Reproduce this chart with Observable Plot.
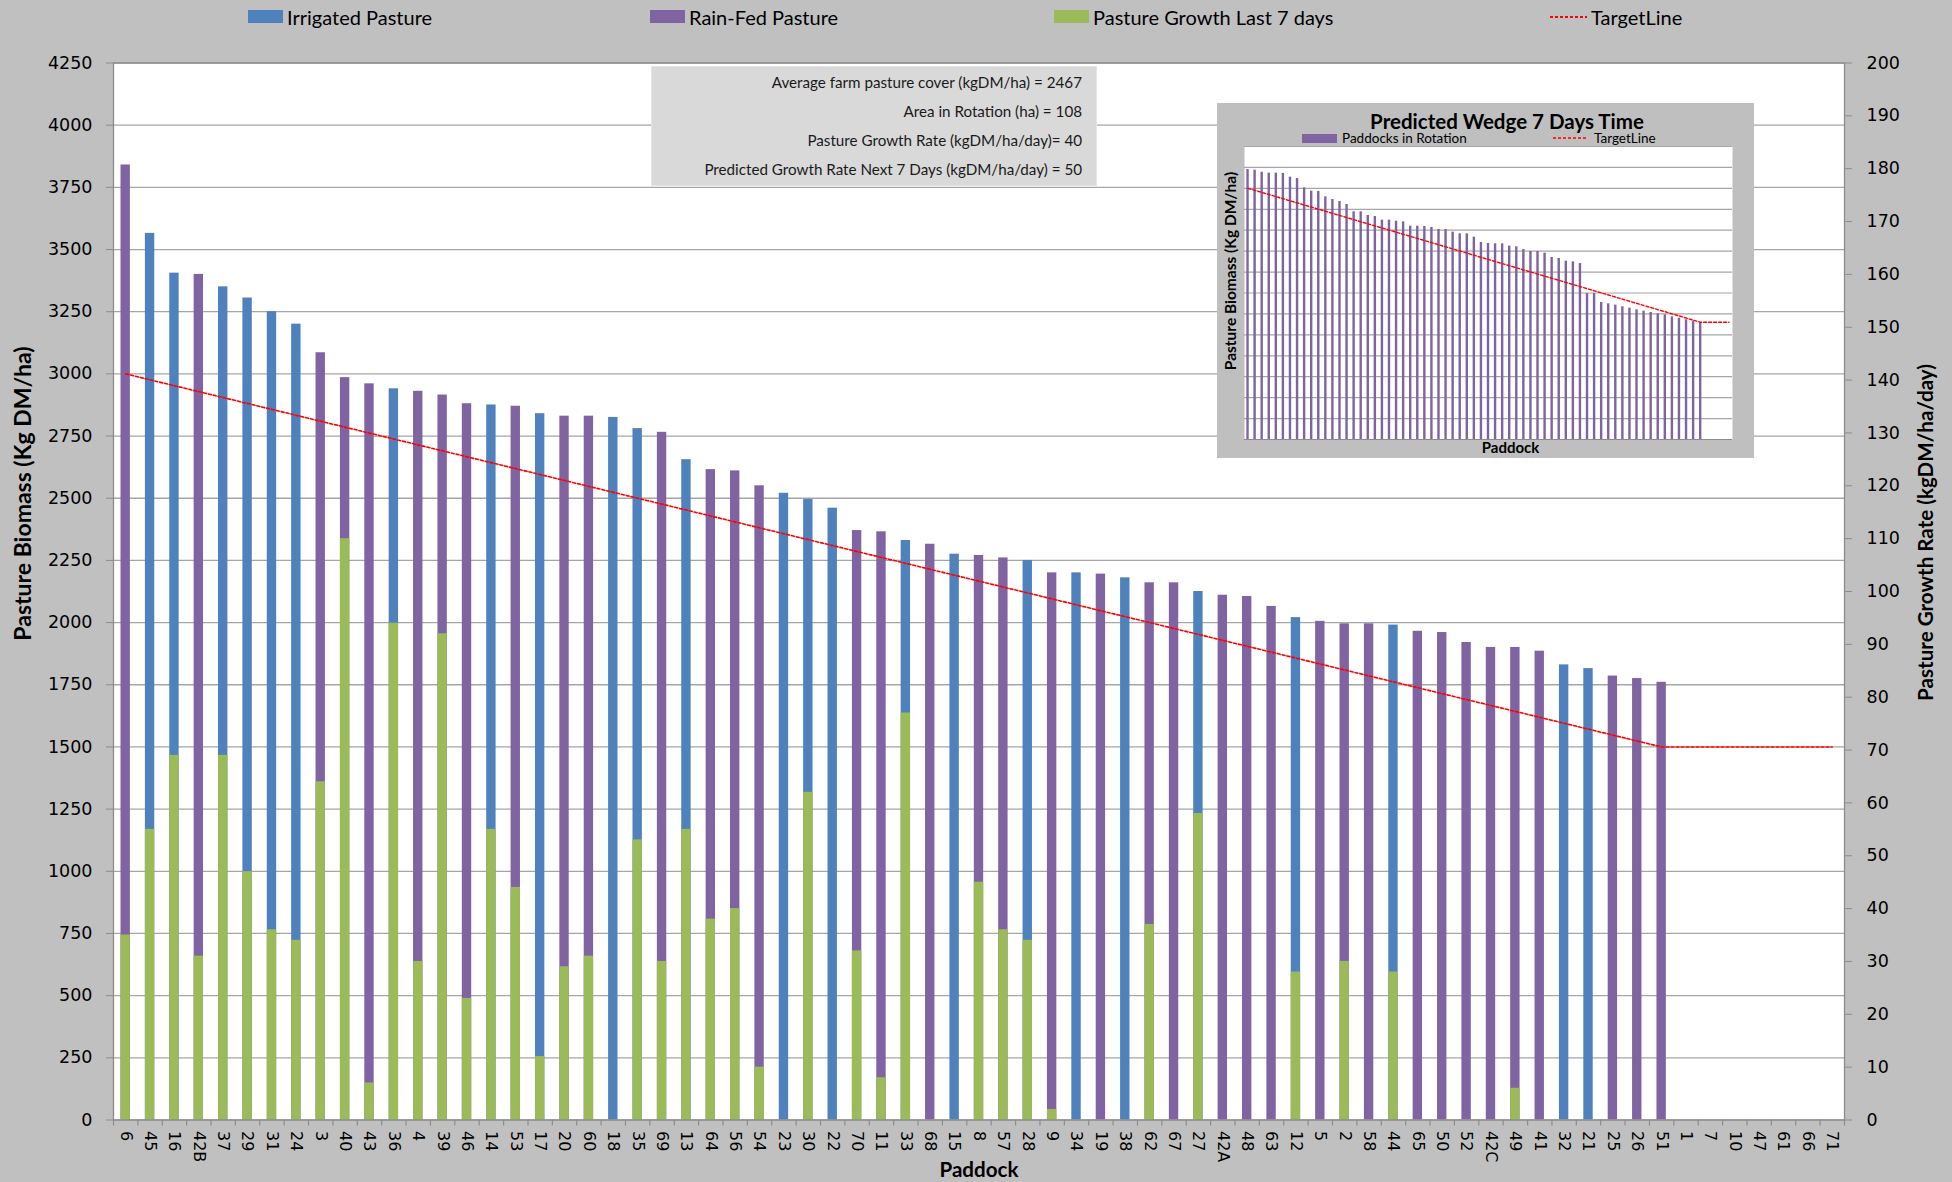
<!DOCTYPE html>
<html><head><meta charset="utf-8">
<script src="https://cdn.jsdelivr.net/npm/d3@7"></script>
<script src="https://cdn.jsdelivr.net/npm/@observablehq/plot@0.6"></script>
<style>
html,body{margin:0;padding:0;background:#c0c0c0;}
#wrap{position:relative;width:1952px;height:1182px;overflow:hidden;background:#c0c0c0;font-family:Lato,"Open Sans",sans-serif;color:#000;}
#legend{position:absolute;left:0;top:0;width:1952px;height:40px;}
.lg{position:absolute;top:0;height:33px;display:flex;align-items:center;font-size:20px;white-space:nowrap;}
.sw{display:inline-block;width:35px;height:13px;margin-right:4px;}
#chart{position:absolute;left:0;top:40px;}
#info{position:absolute;left:651px;top:66px;width:446px;height:120px;background:#d9d9d9;border:1px solid #e6e6e6;box-sizing:border-box;}
#info div{position:absolute;right:14px;font-size:15.2px;line-height:1;transform:translateY(-50%);white-space:nowrap;color:#1a1a1a;}
#inset{position:absolute;left:1217px;top:103px;width:537px;height:355px;background:#bfbfbf;}
#inset .ttl{position:absolute;left:290px;top:18px;transform:translate(-50%,-50%);font-size:20.5px;font-weight:bold;white-space:nowrap;}
#inset .ilg{position:absolute;top:35px;transform:translateY(-50%);display:flex;align-items:center;font-size:13.5px;white-space:nowrap;}
#insetPlot{position:absolute;left:0;top:40px;}
</style></head>
<body>
<div id="wrap">
  <div id="legend"></div>
  <div id="chart"></div>
  <div id="info"></div>
  <div id="inset"><div id="insetPlot"></div></div>
</div>
<script>
// ---------- Data ----------
const paddocks = ["6","45","16","42B","37","29","31","24","3","40","43","36","4","39","46","14","53","17","20","60","18","35","69","13","64","56","54","23","30","22","70","11","33","68","15","8","57","28","9","34","19","38","62","67","27","42A","48","63","12","5","2","58","44","65","50","52","42C","49","41","32","21","25","26","51","1","7","10","47","61","66","71"];
// Pasture cover (kg DM/ha)
const cover = [3840,3565,3405,3400,3350,3305,3250,3200,3085,2985,2960,2940,2930,2915,2880,2875,2870,2840,2830,2830,2825,2780,2765,2655,2615,2610,2550,2520,2495,2460,2370,2365,2330,2315,2275,2270,2260,2250,2200,2200,2195,2180,2160,2160,2125,2110,2105,2065,2020,2005,1995,1995,1990,1965,1960,1920,1900,1900,1885,1830,1815,1785,1775,1760,null,null,null,null,null,null,null];
// I = Irrigated Pasture, R = Rain-Fed Pasture
const pastureType = ["R","I","I","R","I","I","I","I","R","R","R","I","R","R","R","I","R","I","R","R","I","I","R","I","R","R","R","I","I","I","R","R","I","R","I","R","R","I","R","I","R","I","R","R","I","R","R","R","I","R","R","R","I","R","R","R","R","R","R","I","I","R","R","R",null,null,null,null,null,null,null];
// Pasture growth last 7 days (kg DM/ha/day, secondary axis)
const growth7d = [35,55,69,31,69,47,36,34,64,110,7,94,30,92,23,55,44,12,29,31,0,53,30,55,38,40,10,0,62,0,32,8,77,0,0,45,36,34,2,0,0,0,37,0,58,0,0,0,28,0,30,0,28,0,0,0,0,6,0,0,0,0,0,0,null,null,null,null,null,null,null];
const targetPaddocks = ["6","51","71"];
const targetValues = [3000,1500,1500];
const leftTicks = [0,250,500,750,1000,1250,1500,1750,2000,2250,2500,2750,3000,3250,3500,3750,4000,4250];
const rightTicks = [0,10,20,30,40,50,60,70,80,90,100,110,120,130,140,150,160,170,180,190,200];

const infoLines = [
  "Average farm pasture cover (kgDM/ha) = 2467",
  "Area in Rotation (ha) = 108",
  "Pasture Growth Rate (kgDM/ha/day)= 40",
  "Predicted Growth Rate Next 7 Days (kgDM/ha/day) = 50"
];

// Inset: predicted wedge in 7 days
const wedgeValues = [3225,3217,3193,3182,3182,3178,3134,3118,3006,2967,2963,2899,2867,2843,2807,2720,2720,2676,2664,2620,2620,2608,2600,2548,2548,2544,2533,2509,2509,2477,2457,2457,2417,2353,2341,2337,2337,2310,2302,2270,2246,2246,2226,2174,2162,2130,2122,2102,1744,1744,1637,1621,1605,1585,1569,1549,1533,1517,1501,1489,1465,1449,1430,1414,1394];
const wedgeSlotCount = 69;
const wedgeTargetSlots = [1,65,69];
const wedgeTargetValues = [3000,1400,1400];
const insetTicks = [0,250,500,750,1000,1250,1500,1750,2000,2250,2500,2750,3000,3250,3500];

// ---------- Style ----------
const BLUE = "#4f81bd", PURPLE = "#8064a2", GREEN = "#9bbb59", RED = "#ff0000";
const GRID = "#a6a6a6", AXIS = "#8c8c8c";
const W = 1952, H = 1182, LEG = 40;
const mainH = H - LEG;
const mL = 113, mR = 108, mT = 22.5, mB = 62.5;
const plotH = mainH - mT - mB;
const step = (W - mL - mR) / paddocks.length;
const Y1MAX = 4250, Y2MAX = 200, k = Y1MAX / Y2MAX;

// ---------- Legend ----------
const legend = document.getElementById("legend");
const legendItems = [
  {left: 248, label: "Irrigated Pasture", color: BLUE},
  {left: 650, label: "Rain-Fed Pasture", color: PURPLE},
  {left: 1054, label: "Pasture Growth Last 7 days", color: GREEN},
  {left: 1550, label: "TargetLine", line: true}
];
for (const it of legendItems) {
  const d = document.createElement("div");
  d.className = "lg";
  d.style.left = it.left + "px";
  if (it.line) {
    d.innerHTML = `<svg width="37" height="4" style="margin-right:4px"><line x1="0" y1="2" x2="37" y2="2" stroke="${RED}" stroke-width="2" stroke-dasharray="3,2"/></svg>${it.label}`;
  } else {
    d.innerHTML = `<span class="sw" style="background:${it.color}"></span>${it.label}`;
  }
  legend.appendChild(d);
}

// ---------- Info box ----------
const info = document.getElementById("info");
const infoTops = [15.5, 44.5, 73.5, 102.5];
infoLines.forEach((t, i) => {
  const d = document.createElement("div");
  d.style.top = infoTops[i] + "px";
  d.textContent = t;
  info.appendChild(d);
});

// ---------- Main chart ----------
const rows = paddocks.map((p, i) => ({paddock: p, cover: cover[i], type: pastureType[i], growth: growth7d[i]}))
  .filter(d => d.cover != null);
const target = targetPaddocks.map((p, i) => ({paddock: p, value: targetValues[i]}));

const titleFont = {fontFamily: "Lato", fontWeight: "bold", fill: "#000", textAnchor: "middle", lineAnchor: "middle"};

const chart = Plot.plot({
  width: W, height: mainH,
  marginLeft: mL, marginRight: mR, marginTop: mT, marginBottom: mB,
  style: {background: "transparent", fontFamily: "DejaVu Sans", fontSize: "17px", color: "#000", overflow: "visible"},
  x: {type: "band", domain: paddocks, paddingInner: 0.615, paddingOuter: 0.3075, align: 0.5, round: false},
  y: {domain: [0, Y1MAX]},
  marks: [
    Plot.frame({fill: "white", stroke: null}),
    Plot.gridY(leftTicks, {stroke: GRID, strokeOpacity: 1, strokeWidth: 1.3}),
    Plot.barY(rows.filter(d => d.type === "I"), {x: "paddock", y: "cover", fill: BLUE}),
    Plot.barY(rows.filter(d => d.type === "R"), {x: "paddock", y: "cover", fill: PURPLE}),
    Plot.barY(rows.filter(d => d.growth > 0), {x: "paddock", y: d => d.growth * k, fill: GREEN}),
    Plot.line(target, {x: "paddock", y: "value", stroke: RED, strokeWidth: 1.6, strokeDasharray: "3,2"}),
    Plot.frame({stroke: AXIS, strokeWidth: 1.3, fill: "none"}),
    // x-axis ticks between categories
    Plot.tickX(paddocks, {x: d => d, dx: step / 2, insetTop: plotH, insetBottom: -6, stroke: AXIS, strokeWidth: 1.2}),
    Plot.tickX([paddocks[0]], {x: d => d, dx: -step / 2, insetTop: plotH, insetBottom: -6, stroke: AXIS, strokeWidth: 1.2}),
    Plot.axisX({tickSize: 0, tickPadding: 11, tickRotate: 90, fontSize: 16, label: null, fontFamily: "DejaVu Sans"}),
    Plot.axisY(leftTicks, {anchor: "left", tickSize: 7, tickPadding: 14, tickFormat: d => String(d), stroke: AXIS, label: null, fontSize: 17.5}),
    Plot.axisY(rightTicks, {anchor: "right", y: d => d * k, tickSize: 7, tickPadding: 15, tickFormat: d => String(d), stroke: AXIS, label: null, fontSize: 17.5}),
    Plot.text(["Pasture Biomass (Kg DM/ha)"], {text: d => d, frameAnchor: "left", rotate: -90, dx: -90, dy: -98, fontSize: 23, ...titleFont}),
    Plot.text(["Pasture Growth Rate (kgDM/ha/day)"], {text: d => d, frameAnchor: "right", rotate: -90, dx: 82, dy: -59, fontSize: 20.6, ...titleFont}),
    Plot.text(["Paddock"], {text: d => d, frameAnchor: "bottom", dy: 50.5, fontSize: 20.6, ...titleFont})
  ]
});
document.getElementById("chart").appendChild(chart);

// ---------- Inset chart ----------
const insetEl = document.getElementById("inset");
const ttl = document.createElement("div");
ttl.className = "ttl";
ttl.textContent = "Predicted Wedge 7 Days Time";
insetEl.appendChild(ttl);
const il1 = document.createElement("div");
il1.className = "ilg"; il1.style.left = "85px";
il1.innerHTML = `<span style="display:inline-block;width:35px;height:9px;background:${PURPLE};margin-right:5px"></span>Paddocks in Rotation`;
insetEl.appendChild(il1);
const il2 = document.createElement("div");
il2.className = "ilg"; il2.style.left = "336px";
il2.innerHTML = `<svg width="35" height="4" style="margin-right:6px"><line x1="0" y1="2" x2="35" y2="2" stroke="${RED}" stroke-width="1.6" stroke-dasharray="3,2"/></svg>TargetLine`;
insetEl.appendChild(il2);

const wedgeSlots = d3.range(1, wedgeSlotCount + 1);
const wedge = wedgeValues.map((v, i) => ({slot: wedgeSlots[i], value: v}));
const wedgeTarget = wedgeTargetSlots.map((s, i) => ({slot: s, value: wedgeTargetValues[i]}));

const insetPlot = Plot.plot({
  width: 537, height: 315,
  marginTop: 3, marginBottom: 19, marginLeft: 27, marginRight: 22,
  style: {background: "transparent", overflow: "visible"},
  x: {type: "band", domain: wedgeSlots, paddingInner: 0.66, paddingOuter: 0.33, round: false, axis: null},
  y: {domain: [0, 3500], axis: null},
  marks: [
    Plot.frame({fill: "white", stroke: null}),
    Plot.gridY(insetTicks, {stroke: GRID, strokeOpacity: 1, strokeWidth: 1.2}),
    Plot.barY(wedge, {x: "slot", y: "value", fill: PURPLE}),
    Plot.line(wedgeTarget, {x: "slot", y: "value", stroke: RED, strokeWidth: 1.4, strokeDasharray: "3,2"}),
    Plot.ruleY([0], {stroke: AXIS}),
    Plot.text(["Pasture Biomass (Kg DM/ha)"], {text: d => d, frameAnchor: "left", rotate: -90, dx: -13, dy: -22, fontSize: 15.5, ...titleFont}),
    Plot.text(["Paddock"], {text: d => d, frameAnchor: "bottom", dy: 9, dx: 22, fontSize: 15, ...titleFont})
  ]
});
document.getElementById("insetPlot").appendChild(insetPlot);
</script>
</body></html>
